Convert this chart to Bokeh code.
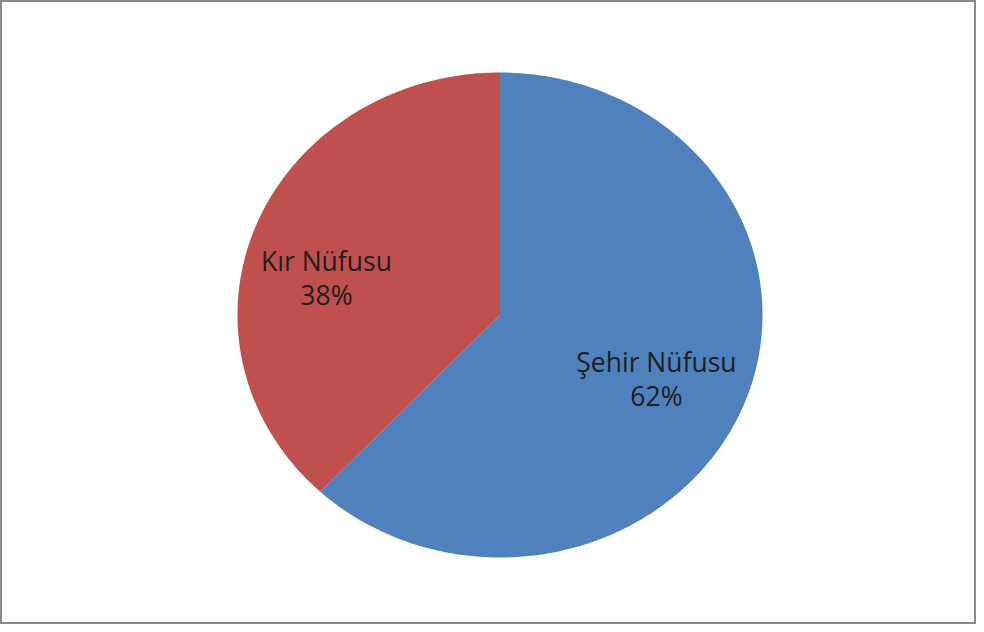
import numpy as np
from bokeh.plotting import figure
from bokeh.models import Range1d, ColumnDataSource
from bokeh.core.properties import value
from bokeh.embed import file_html
from bokeh.resources import INLINE

# ---- data ----
categories = ["Şehir Nüfusu", "Kır Nüfusu"]
shares = [62, 38]
colors = ["#4F81BD", "#C0504D"]

# ---- layout ----
W, H = 976, 624
CX, CY = 499.5, H - 314.5          # pie centre (data units = pixels)
RX, RY = 262.5, 242.5              # ellipse radii
LABEL_FRAC = [(0.641, 0.72), (0.711, 0.41)]  # label placement (fraction of radius)
LINE_GAP = 17

p = figure(width=W, height=H, output_backend="svg", toolbar_location=None,
           x_range=Range1d(0, W), y_range=Range1d(0, H), min_border=0)
p.axis.visible = False
p.grid.visible = False
p.background_fill_color = "white"
p.border_fill_color = "white"
p.outline_line_color = "#8a8a8a"
p.outline_line_width = 3

vals = np.array(shares, dtype=float)
fr = vals / vals.sum()
ends = np.pi / 2 - 2 * np.pi * np.cumsum(fr)
starts = np.concatenate([[np.pi / 2], ends[:-1]])

xs, ys, lx, ly, names, pcts = [], [], [], [], [], []
for i, (a0, a1) in enumerate(zip(starts, ends)):
    t = np.linspace(a0, a1, 200)
    xs.append(list(np.concatenate([[CX], CX + RX * np.cos(t)])))
    ys.append(list(np.concatenate([[CY], CY + RY * np.sin(t)])))
    mid = (a0 + a1) / 2
    fx, fy = LABEL_FRAC[i]
    lx.append(CX + RX * fx * np.cos(mid))
    ly.append(CY + RY * fy * np.sin(mid))
    names.append(categories[i])
    pcts.append(f"{round(fr[i] * 100)}%")

src = ColumnDataSource(dict(xs=xs, ys=ys, color=colors))
p.patches("xs", "ys", source=src, fill_color="color", line_color=None)

tsrc = ColumnDataSource(dict(x=lx, y=ly, name=names, pct=pcts))
common = dict(source=tsrc, text_align="center", text_baseline="middle",
              text_font=value("Open Sans"), text_font_size="26.5px",
              text_color="#1e1e1e")
p.text("x", "y", text="name", y_offset=-LINE_GAP, **common)
p.text("x", "y", text="pct", y_offset=LINE_GAP, **common)

open("out.html", "w").write(file_html(p, INLINE))
